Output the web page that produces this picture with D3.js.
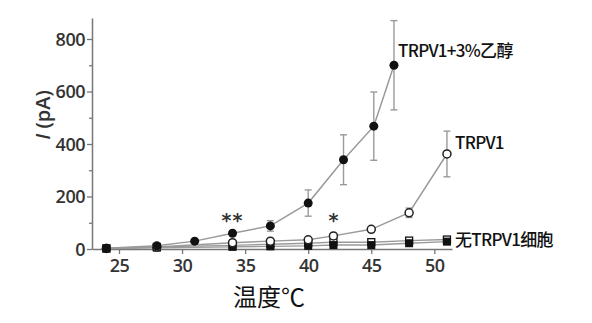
<!DOCTYPE html>
<html><head><meta charset="utf-8">
<script src="https://cdn.jsdelivr.net/npm/d3@7"></script>
<style>body{margin:0;background:#fff}svg{display:block}</style>
</head><body>
<svg id="c" width="592" height="323"></svg>
<script>
// Data
const ethTemps = [24, 28, 31, 34, 37, 40, 42.8, 45.2, 46.8];
const ethVals  = [3, 12, 30, 60, 88, 175, 340, 468, 700];
const ethErr   = [0, 0, 0, 8, 20, 50, 95, 130, 170];

const trpTemps = [24, 28, 34, 37, 40, 42, 45, 48, 51];
const trpVals  = [2, 8, 24, 30, 35, 50, 75, 138, 362];
const trpErr   = [0, 0, 0, 0, 0, 0, 0, 18, 87];

const noTemps  = [24, 28, 34, 37, 40, 42, 45, 48, 51];
const noOpen   = [2, 8, 14, 18, 22, 26, 26, 32, 36];
const noFilled = [2, 5, 8, 10, 12, 15, 15, 22, 28];

const xTicks = [25, 30, 35, 40, 45, 50];
const yTicks = [0, 200, 400, 600, 800];
const yMinor = [100, 300, 500, 700];

const labels = ["TRPV1+3%乙醇", "TRPV1", "无TRPV1细胞"];

const svg = d3.select("#c");
const x = d3.scaleLinear().domain([22.86, 51.4]).range([92, 452]);
const y = d3.scaleLinear().domain([0, 880]).range([249, 18]);

const axisCol = "#777", lineCol = "#9a9a9a";
const font = "'Open Sans', Arial, sans-serif";

// axes
const gx = svg.append("g").attr("transform", `translate(0,${y(0)})`)
  .call(d3.axisBottom(x).tickValues(xTicks).tickSize(5).tickPadding(5).tickSizeOuter(0));
const gy = svg.append("g").attr("transform", `translate(${x.range()[0]},0)`)
  .call(d3.axisLeft(y).tickValues(yTicks).tickSize(5).tickPadding(2).tickSizeOuter(0));
svg.append("g").attr("transform", `translate(${x.range()[0]},0)`)
  .call(d3.axisLeft(y).tickValues(yMinor).tickSize(3).tickFormat("").tickSizeOuter(0))
  .select(".domain").remove();
svg.selectAll(".domain").attr("stroke", axisCol).attr("stroke-width", 1.5);
svg.selectAll(".tick line").attr("stroke", axisCol).attr("stroke-width", 1.3);
gx.selectAll("text").attr("font-family", font).attr("font-size", 18).attr("font-weight", 600)
  .attr("letter-spacing", -0.5).attr("fill", "#333");
gy.selectAll("text").attr("font-family", font).attr("font-size", 18).attr("font-weight", 600)
  .attr("letter-spacing", -0.5).attr("fill", "#333").attr("dy", "0.34em");

// axis titles
const yl = svg.append("text").attr("transform", `translate(50,115) rotate(-90)`)
  .attr("text-anchor", "middle").attr("font-family", font).attr("font-size", 20)
  .attr("font-weight", 600).attr("fill", "#333");
yl.append("tspan").attr("font-style", "italic").text("I");
yl.append("tspan").text(" (pA)");
svg.append("text").attr("x", 233).attr("y", 306).attr("font-family", "'Noto Sans CJK SC', sans-serif")
  .attr("font-size", 24).attr("fill", "#111").text("温度℃");

function zip(t, v){ return t.map((d,i)=>({t:d, v:v[i]})); }
const line = d3.line().x(d=>x(d.t)).y(d=>y(d.v));

function drawErr(t, v, e){
  const g = svg.append("g").attr("stroke", lineCol).attr("stroke-width", 1.4);
  t.forEach((tt,i)=>{
    if(!e[i]) return;
    const cx = x(tt);
    g.append("line").attr("x1",cx).attr("x2",cx).attr("y1",y(v[i]-e[i])).attr("y2",y(v[i]+e[i]));
    [v[i]-e[i], v[i]+e[i]].forEach(val=>{
      g.append("line").attr("x1",cx-3.5).attr("x2",cx+3.5).attr("y1",y(val)).attr("y2",y(val));
    });
  });
}

// no TRPV1 series
[noOpen, noFilled].forEach(vals=>{
  svg.append("path").datum(zip(noTemps, vals)).attr("d", line)
    .attr("fill","none").attr("stroke", lineCol).attr("stroke-width", 1.4);
});
svg.append("g").selectAll("rect").data(zip(noTemps, noOpen)).join("rect")
  .attr("x", d=>x(d.t)-3.5).attr("y", d=>y(d.v)-3.5).attr("width",7).attr("height",7)
  .attr("fill","#fff").attr("stroke","#111").attr("stroke-width",1.3);
svg.append("g").selectAll("rect").data(zip(noTemps, noFilled)).join("rect")
  .attr("x", d=>x(d.t)-4).attr("y", d=>y(d.v)-4).attr("width",8).attr("height",8)
  .attr("fill","#111");

// TRPV1
drawErr(trpTemps, trpVals, trpErr);
svg.append("path").datum(zip(trpTemps, trpVals)).attr("d", line)
  .attr("fill","none").attr("stroke", lineCol).attr("stroke-width", 1.5);
svg.append("g").selectAll("circle").data(zip(trpTemps, trpVals)).join("circle")
  .attr("cx", d=>x(d.t)).attr("cy", d=>y(d.v)).attr("r", 4)
  .attr("fill","#fff").attr("stroke","#222").attr("stroke-width",1.5);

// TRPV1 + ethanol
drawErr(ethTemps, ethVals, ethErr);
svg.append("path").datum(zip(ethTemps, ethVals)).attr("d", line)
  .attr("fill","none").attr("stroke", lineCol).attr("stroke-width", 1.5);
svg.append("g").selectAll("circle").data(zip(ethTemps, ethVals)).join("circle")
  .attr("cx", d=>x(d.t)).attr("cy", d=>y(d.v)).attr("r", 4.5).attr("fill","#111");

// significance stars
const starFont = "'DejaVu Sans', sans-serif";
svg.append("text").attr("x", x(34)).attr("y", y(60)-6).attr("text-anchor","middle")
  .attr("font-family", starFont).attr("font-size", 19).attr("font-weight", "bold")
  .attr("letter-spacing", 1).attr("fill","#333").text("**");
svg.append("text").attr("x", x(42)).attr("y", y(50)-9).attr("text-anchor","middle")
  .attr("font-family", starFont).attr("font-size", 19).attr("font-weight", "bold")
  .attr("fill","#333").text("*");

// series labels
const cjk = "'Noto Sans CJK SC', sans-serif";
svg.append("text").attr("x", 398).attr("y", 57).attr("font-family", cjk).attr("font-size", 17)
  .attr("font-weight", 500).attr("letter-spacing", -0.7).attr("fill","#111").text(labels[0]);
svg.append("text").attr("x", 455).attr("y", 149).attr("font-family", cjk).attr("font-size", 17)
  .attr("font-weight", 500).attr("letter-spacing", -0.7).attr("fill","#111").text(labels[1]);
svg.append("text").attr("x", 455).attr("y", 246).attr("font-family", cjk).attr("font-size", 17)
  .attr("font-weight", 500).attr("letter-spacing", -0.7).attr("fill","#111").text(labels[2]);
</script>
</body></html>
